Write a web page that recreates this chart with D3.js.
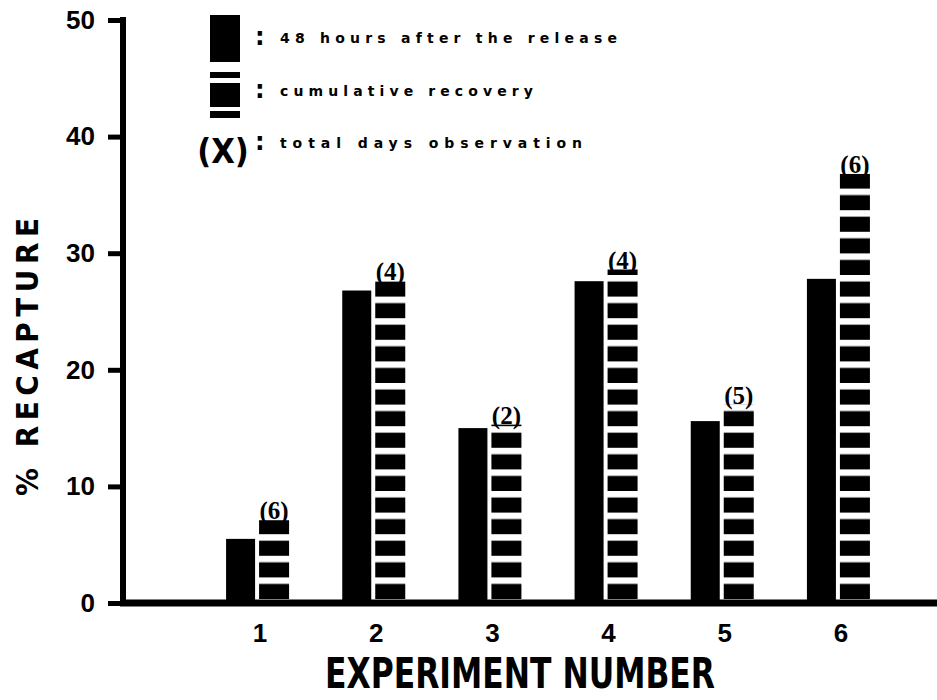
<!DOCTYPE html>
<html lang="en">
  <head>
    <meta charset="utf-8">
    <script src="https://d3js.org/d3.v7.min.js"></script>
    <style>
      body { margin: 0; background: #fff; }
      svg { display: block; background: #fff; }
      .heavy { font-family: "Liberation Sans Narrow", "DejaVu Sans Condensed", "Liberation Sans", sans-serif; font-weight: bold; }
      .digits { font-family: "Liberation Sans", "DejaVu Sans", sans-serif; font-weight: bold; }
      .small { font-family: "DejaVu Sans", "Liberation Sans", sans-serif; font-weight: bold; }
      .paren { font-family: "Liberation Serif", "DejaVu Serif", serif; font-weight: bold; }
    </style>
  </head>
  <body>
    <svg width="937" height="700"></svg>
    <script>
      // values
      var experiments = [1, 2, 3, 4, 5, 6];
      var after48h = [5.5, 26.8, 15.0, 27.6, 15.6, 27.8];   // solid bars
      var cumulative = [7.1, 27.6, 15.3, 28.6, 17.0, 36.8]; // striped bars
      var totalDays = [6, 4, 2, 4, 5, 6];                   // numbers in brackets
      var yTicks = [0, 10, 20, 30, 40, 50];
      var legendLabels = ["48 hours after the release", "cumulative recovery", "total days observation"];

      var svg = d3.select("svg"),
        W = +svg.attr("width"),
        axisX = 123,
        yScale = d3.scaleLinear().domain([0, 50]).range([603, 20]),
        xScale = d3.scaleBand().domain(experiments).range([199, 896]).padding(0),
        barW = 29;

      // stripes for the cumulative bars, lined up on the base line
      var pat = svg.append("defs").append("pattern")
        .attr("id", "stripes")
        .attr("patternUnits", "userSpaceOnUse")
        .attr("x", 0)
        .attr("y", yScale(0) - 4)
        .attr("width", W)
        .attr("height", 21.6);
      pat.append("rect")
        .attr("x", 0).attr("y", 6.5)
        .attr("width", W).attr("height", 15.1)
        .attr("fill", "#000");

      // solid bars
      svg.append("g").selectAll("rect")
        .data(experiments)
        .enter().append("rect")
        .attr("x", function (d) { return xScale(d) + xScale.bandwidth() / 2 - 2 - barW; })
        .attr("y", function (d, i) { return yScale(after48h[i]); })
        .attr("width", barW)
        .attr("height", function (d, i) { return yScale(0) - yScale(after48h[i]); })
        .attr("fill", "#000");

      // striped bars
      svg.append("g").selectAll("rect")
        .data(experiments)
        .enter().append("rect")
        .attr("x", function (d) { return xScale(d) + xScale.bandwidth() / 2 + 2; })
        .attr("y", function (d, i) { return yScale(cumulative[i]); })
        .attr("width", barW + 1)
        .attr("height", function (d, i) { return yScale(0) - yScale(cumulative[i]); })
        .attr("fill", "url(#stripes)");

      // day counts above the striped bars
      svg.append("g").selectAll("text")
        .data(experiments)
        .enter().append("text")
        .attr("class", "paren")
        .attr("x", function (d) { return xScale(d) + xScale.bandwidth() / 2 + 17; })
        .attr("y", function (d, i) { return yScale(cumulative[i]) - 1; })
        .attr("text-anchor", "middle")
        .style("font-size", "25px")
        .text(function (d, i) { return "(" + totalDays[i] + ")"; });

      // y axis
      var yAxis = svg.append("g")
        .attr("transform", "translate(" + axisX + ",0)")
        .call(d3.axisLeft(yScale).tickValues(yTicks).tickSize(15).tickSizeOuter(0).tickPadding(13));
      yAxis.select(".domain").attr("stroke-width", 6).attr("d", "M0," + (yScale(50) - 3) + "V" + (yScale(0) + 3));
      yAxis.selectAll(".tick line").attr("stroke-width", 5);
      yAxis.selectAll(".tick text")
        .attr("class", "digits")
        .style("font-size", "26px")
        .attr("fill", "#000");

      // base line
      svg.append("line")
        .attr("x1", axisX - 3).attr("x2", W)
        .attr("y1", yScale(0)).attr("y2", yScale(0))
        .attr("stroke", "#000")
        .attr("stroke-width", 7);

      // x axis labels
      var xAxis = svg.append("g")
        .attr("transform", "translate(3," + (yScale(0) + 18) + ")")
        .call(d3.axisBottom(xScale).tickSize(0));
      xAxis.select(".domain").remove();
      xAxis.selectAll(".tick text")
        .attr("class", "digits")
        .style("font-size", "26px")
        .attr("fill", "#000");

      // axis titles
      svg.append("text")
        .attr("class", "heavy")
        .attr("x", 325)
        .attr("y", 688)
        .attr("textLength", 390)
        .attr("lengthAdjust", "spacingAndGlyphs")
        .style("font-size", "42px")
        .text("EXPERIMENT NUMBER");

      svg.append("text")
        .attr("class", "heavy")
        .attr("transform", "translate(38,496)rotate(-90)")
        .attr("textLength", 278)
        .attr("lengthAdjust", "spacing")
        .style("font-size", "31px")
        .text("% RECAPTURE");

      // legend
      var lg = svg.append("g");
      lg.append("rect").attr("x", 210).attr("y", 15).attr("width", 30).attr("height", 47).attr("fill", "#000");
      lg.append("rect").attr("x", 210).attr("y", 72).attr("width", 30).attr("height", 6).attr("fill", "#000");
      lg.append("rect").attr("x", 210).attr("y", 83).attr("width", 30).attr("height", 24).attr("fill", "#000");
      lg.append("rect").attr("x", 210).attr("y", 111).attr("width", 30).attr("height", 7).attr("fill", "#000");
      lg.append("text")
        .attr("class", "heavy")
        .attr("x", 223).attr("y", 163)
        .attr("text-anchor", "middle")
        .style("font-size", "34px")
        .text("(X)");

      var legendY = [43, 96, 148],
        legendW = [337, 253, 302];
      lg.selectAll(".colon")
        .data(legendLabels)
        .enter().append("text")
        .attr("class", "small")
        .attr("x", 255)
        .attr("y", function (d, i) { return legendY[i] + 2; })
        .style("font-size", "24px")
        .text(":");
      lg.selectAll(".lab")
        .data(legendLabels)
        .enter().append("text")
        .attr("class", "small")
        .attr("x", 280)
        .attr("y", function (d, i) { return legendY[i]; })
        .attr("textLength", function (d, i) { return legendW[i]; })
        .attr("lengthAdjust", "spacing")
        .style("font-size", "14px")
        .text(function (d) { return d; });
    </script>
  </body>
</html>
